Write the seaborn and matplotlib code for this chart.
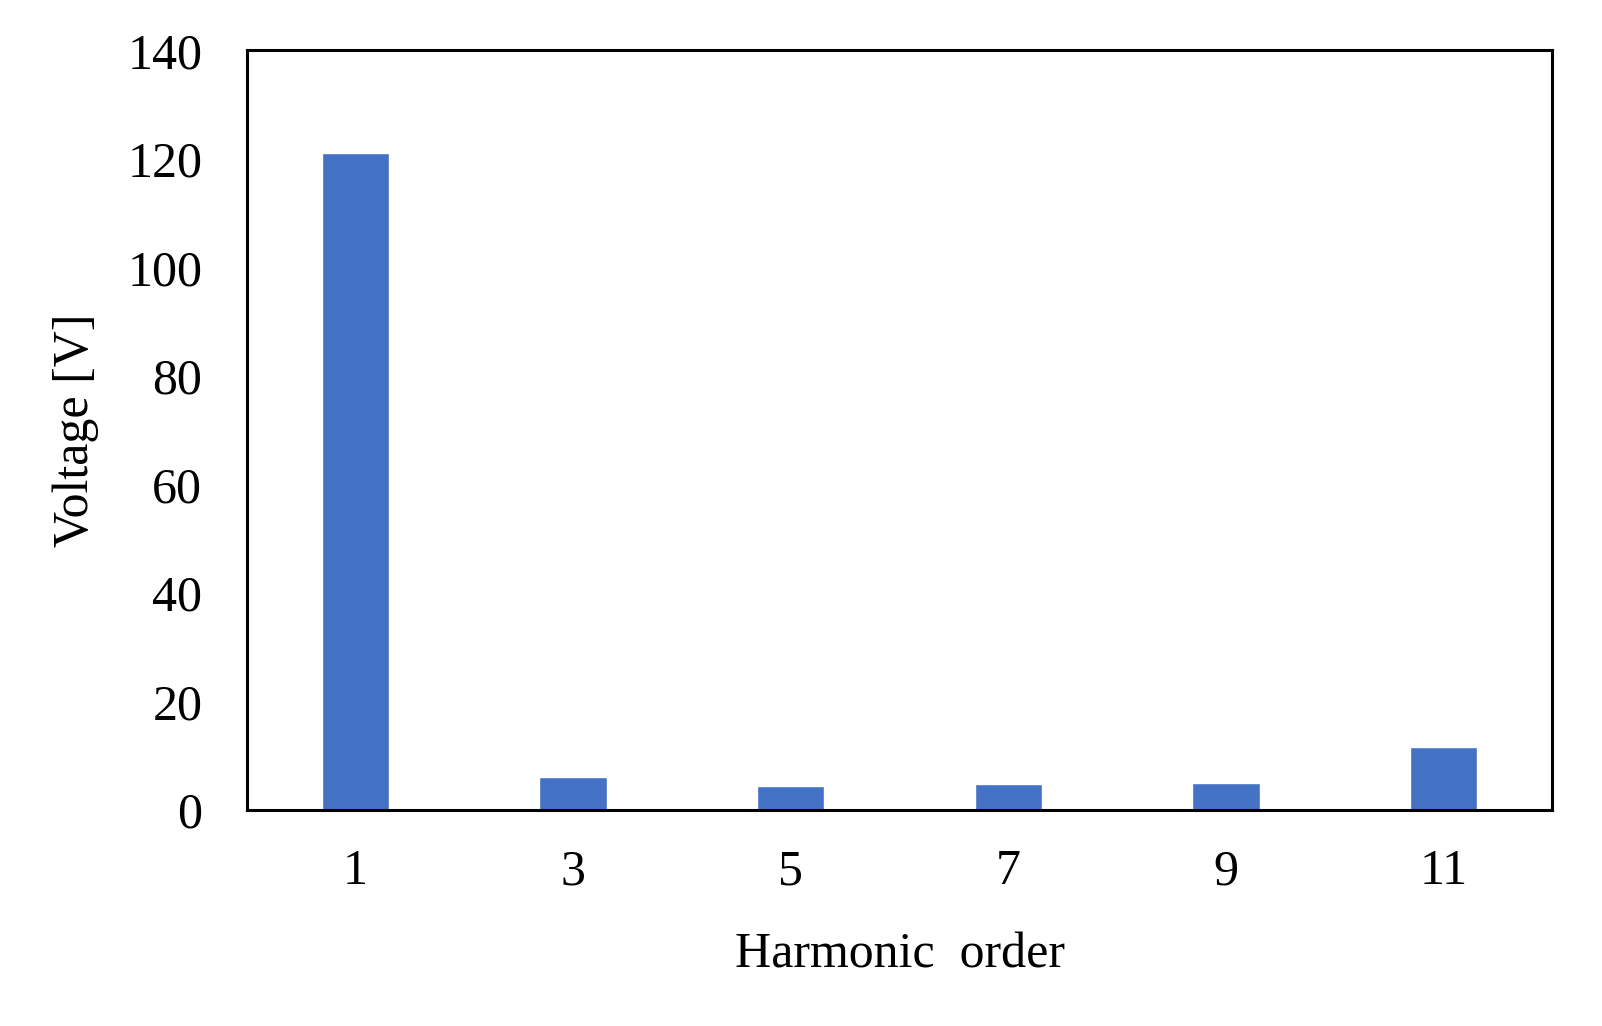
import matplotlib
matplotlib.use("Agg")
import matplotlib.pyplot as plt
import seaborn as sns
import pandas as pd

harmonic_orders = ["1", "3", "5", "7", "9", "11"]
voltages = [121.1, 6.1, 4.4, 4.8, 5.0, 11.6]

sns.set_theme(style="white")
plt.rcParams['font.family'] = ['Liberation Serif', 'DejaVu Serif']

df = pd.DataFrame({"order": harmonic_orders, "voltage": voltages})

fig = plt.figure(figsize=(16.02, 10.26), dpi=100)
ax = fig.add_axes([0.154, 0.2105, 0.815, 0.7405])
sns.barplot(data=df, x="order", y="voltage", order=harmonic_orders,
            color="#4472C4", saturation=1, width=0.31, ax=ax)
ax.set_ylim(0, 140)
ax.set_yticks(range(0, 141, 20))
ax.set_xlim(-0.5, 5.5)
ax.tick_params(axis="both", which="both", length=0, labelsize=36, colors="black")
ax.tick_params(axis="y", pad=32)
ax.tick_params(axis="x", pad=28)
ax.set_xlabel("Harmonic  order", fontsize=36, labelpad=26, color="black")
ax.set_ylabel("Voltage [V]", fontsize=36, labelpad=20, color="black")
for s in ax.spines.values():
    s.set_visible(True)
    s.set_color("black")
    s.set_linewidth(2.2)
ax.grid(False)
fig.savefig("out.png", dpi=100, facecolor="white")
